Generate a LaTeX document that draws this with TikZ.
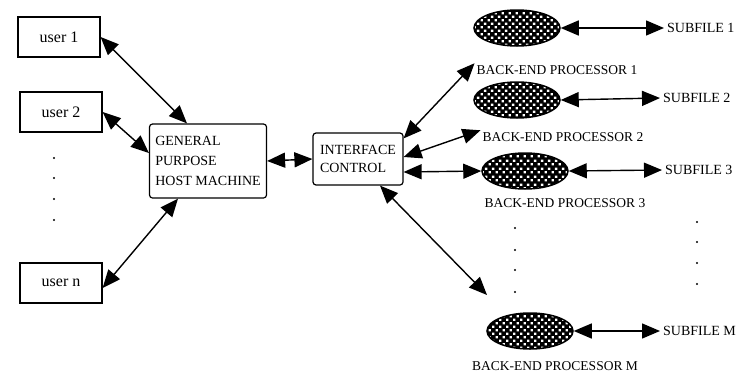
\documentclass[tikz,border=0pt]{standalone}
\usepackage{fontspec}
\setmainfont{Liberation Serif}
\usetikzlibrary{positioning,arrows.meta,shapes.geometric,patterns}
\pgfdeclarepatternformonly{bechecks}{\pgfqpoint{0pt}{0pt}}{\pgfqpoint{7.4pt}{7.4pt}}{\pgfqpoint{7.4pt}{7.4pt}}{%
  \pgfpathrectangle{\pgfqpoint{0.6pt}{0.6pt}}{\pgfqpoint{2.5pt}{2.5pt}}%
  \pgfpathrectangle{\pgfqpoint{4.3pt}{4.3pt}}{\pgfqpoint{2.5pt}{2.5pt}}%
  \pgfusepath{fill}}

\begin{document}
\begin{tikzpicture}[
  x=1pt, y=-1pt,
  user/.style={draw, line width=1.2pt, fill=white, minimum width=82pt, minimum height=40pt,
               font=\fontsize{16}{18}\selectfont},
  host/.style={draw, rounded corners=3pt, line width=1.2pt, align=left, minimum width=117pt,
               inner xsep=4pt, minimum height=74pt, font=\fontsize{14}{20}\selectfont},
  ctrl/.style={draw, rounded corners=3pt, line width=1.2pt, align=left, minimum width=90pt,
               inner xsep=4pt, minimum height=52pt, font=\fontsize{14}{18}\selectfont},
  bep/.style={ellipse, draw, line width=1.5pt, preaction={fill=black}, pattern=bechecks,
              pattern color=white, minimum width=86pt, minimum height=36pt, inner sep=0pt},
  blabel/.style={font=\fontsize{13.5}{15}\selectfont, inner sep=2pt},
  sfile/.style={anchor=west, font=\fontsize{14}{16}\selectfont, inner sep=3pt},
  link/.style={{Triangle[length=18pt,width=15pt]}-{Triangle[length=18pt,width=15pt]}, line width=1.4pt},
]
\useasboundingbox (0,0) rectangle (751,375);

% Users
\node[user] (u1) at (59,37)  {user 1};
\node[user] (u2) at (61,112) {user 2};
\node[user] (un) at (61,283) {user n};
\foreach \y in {158,178,199,220}{ \fill (54,\y) circle (1.1pt); }

% Host and interface
\node[host] (host) at (208,161) {GENERAL\\PURPOSE\\HOST MACHINE};
\node[ctrl] (ic) at (358,159) {INTERFACE\\CONTROL};

% Back-end processors
\node[bep] (e1) at (517,28)  {};
\node[bep] (e2) at (517,100) {};
\node[bep] (e3) at (525,171) {};
\node[bep] (em) at (530,331) {};
\node[blabel] (l1) at (557,70)  {BACK-END PROCESSOR 1};
\node[blabel] (l2) at (563,137) {BACK-END PROCESSOR 2};
\node[blabel] (l3) at (565,203) {BACK-END PROCESSOR 3};
\node[blabel] (lm) at (555,366) {BACK-END PROCESSOR M};
\foreach \y in {228,250,270,292}{ \fill (515,\y) circle (1.1pt); }

% Subfiles
\node[sfile] (s1) at (664,28)  {SUBFILE 1};
\node[sfile] (s2) at (660,98)  {SUBFILE 2};
\node[sfile] (s3) at (662,170) {SUBFILE 3};
\node[sfile] (sm) at (660,331) {SUBFILE M};
\foreach \y in {222,242,263,284}{ \fill (697,\y) circle (1.1pt); }

\coordinate (mtip) at (487,295);

% Links
\draw[link] (u1.east) -- ([xshift=-21pt]host.north);
\draw[link] (u2.east) -- ([yshift=8pt]host.west);
\draw[link] ([yshift=-5pt]un.east) -- ([xshift=-30pt]host.south);
\draw[link] (host.east) -- (ic.west);
\draw[link] ([yshift=-6pt]ic.north east) -- (l1.north west);
\draw[link] ([yshift=2pt]ic.east) -- (l2.north west);
\draw[link] ([yshift=-13pt]ic.east) -- (e3.west);
\draw[link] ([xshift=22pt]ic.south) -- (mtip);
\foreach \e/\s in {e1/s1,e2/s2,e3/s3,em/sm}{ \draw[link] (\e.east) -- (\s.west); }

\end{tikzpicture}
\end{document}
